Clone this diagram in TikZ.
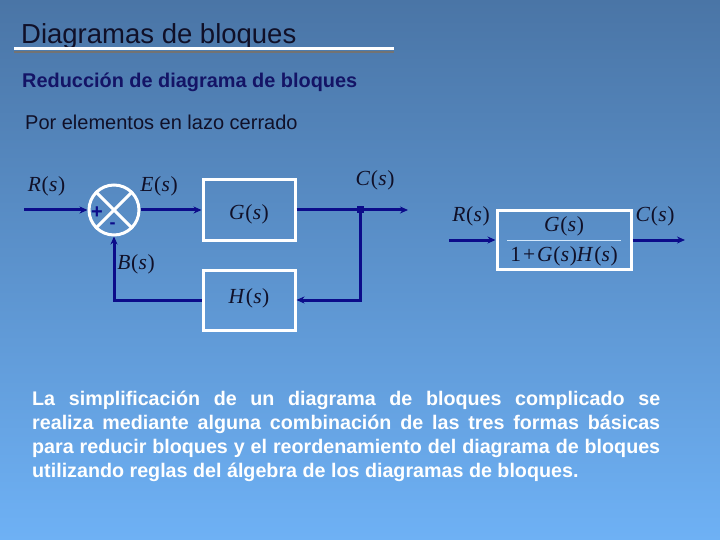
\documentclass[tikz,border=0pt]{standalone}
\usepackage{fontspec}
\setmainfont{Liberation Sans}
\newfontfamily\tnr{Liberation Serif}
\usetikzlibrary{arrows.meta,calc}
\definecolor{navy}{HTML}{0C0C8A}
\definecolor{bgtop}{HTML}{4A75A6}
\definecolor{bgbot}{HTML}{6EB1F5}
\definecolor{ttl}{HTML}{141466}
\definecolor{ink}{HTML}{101028}
\newcommand\tfn[1]{{\tnr\textit{#1}\kern0.8pt(\kern0.3pt\textit{s}\kern0.5pt)}}
\begin{document}
\begin{tikzpicture}[x=1pt,y=-1pt,
  sig/.style={draw=navy,line width=3pt,-{Stealth[length=8pt,width=7pt]}},
  wire/.style={draw=navy,line width=3pt},
  block/.style={draw=white,line width=3pt,minimum width=92pt,minimum height=60pt,inner sep=0pt},
  lbl/.style={text=ink,font=\fontsize{21.5}{24}\selectfont,inner sep=0pt}]
\shade[top color=bgtop,bottom color=bgbot] (0,0) rectangle (720,540);
\useasboundingbox (0,0) rectangle (720,540);
% headings
\node[anchor=base west,inner sep=0pt,text=ink,font=\fontsize{27.5}{30}\selectfont] (title) at (21,44) {Diagramas de bloques};
\draw[black!55,line width=2pt] (14,52.5) -- (394,52.5);
\draw[white,line width=3.5pt] (14,48.5) -- (394,48.5);
\node[anchor=base west,inner sep=0pt,text=ttl,font=\bfseries\fontsize{19.9}{22}\selectfont] (sub) at (22,88) {Reducción de diagrama de bloques};
\node[anchor=base west,inner sep=0pt,text=ink,font=\fontsize{20}{22}\selectfont] (sub2) at (25,130) {Por elementos en lazo cerrado};
% left diagram
\node[circle,draw=white,line width=3pt,minimum size=50pt,inner sep=0pt] (sum) at (114,210) {};
\draw[white,line width=3pt] (sum.north west) -- (sum.south east) (sum.north east) -- (sum.south west);
\node[text=navy,inner sep=0pt,font=\bfseries\fontsize{20}{20}\selectfont] (plus) at (97,213) {+};
\node[text=navy,inner sep=0pt,font=\bfseries\fontsize{18}{18}\selectfont] (minus) at (112.5,226) {-};
\node[block] (G) at (249,210) {};
\node[lbl] (Gl) at (249,214) {\tfn{G}};
\node[block] (H) at (249,300) {};
\node[lbl] (Hl) at (249,298) {\tfn{H}};
\coordinate (rin) at (24,210);
\coordinate (bp) at (360,210);
\coordinate (cout) at (408,210);
\draw[sig] (rin) -- (sum.west);
\draw[sig] (sum.east) -- (G.west);
\draw[wire] (G.east) -- (bp);
\draw[sig] (bp) -- (cout);
\draw[sig] (bp) |- (H.east);
\draw[sig] (H.west) -| (sum.south);
\fill[navy] ($(bp)+(-3.5,-3.5)$) rectangle ($(bp)+(3.5,3.5)$);
\node[lbl] (Rl) at (46.5,186) {\tfn{R}};
\node[lbl] (El) at (159,186) {\tfn{E}};
\node[lbl] (Cl) at (375,180) {\tfn{C}};
\node[lbl] (Bl) at (136,264) {\tfn{B}};
% right diagram
\node[draw=white,line width=3pt,minimum width=134pt,minimum height=59pt,inner sep=0pt] (T) at (564,240) {};
\draw[white!70!bgbot,line width=0.6pt] (507,240) -- (621,240);
\node[lbl] (num) at (564,226) {\tfn{G}};
\node[lbl] (den) at (564,256) {{\tnr 1\kern2pt+\kern2pt\textit{G}\kern0.8pt(\kern0.3pt\textit{s}\kern0.5pt)\textit{H}\kern0.8pt(\kern0.3pt\textit{s}\kern0.5pt)}};
\coordinate (rin2) at (449,240);
\coordinate (cout2) at (685,240);
\draw[sig] (rin2) -- (T.west);
\draw[sig] (T.east) -- (cout2);
\node[lbl] (R2) at (471,216) {\tfn{R}};
\node[lbl] (C2) at (655,216) {\tfn{C}};
% paragraph
\node[anchor=north west,inner sep=0pt,text width=628pt,align=justify,text=white,
  font=\bfseries\fontsize{19.7}{24}\selectfont] (para) at (32,391)
  {\hyphenpenalty=10000 La simplificación de un diagrama de bloques complicado se\linebreak realiza mediante alguna combinación de las tres formas básicas\linebreak para reducir bloques y el reordenamiento del diagrama de bloques\linebreak utilizando reglas del álgebra de los diagramas de bloques.};
\end{tikzpicture}
\end{document}
